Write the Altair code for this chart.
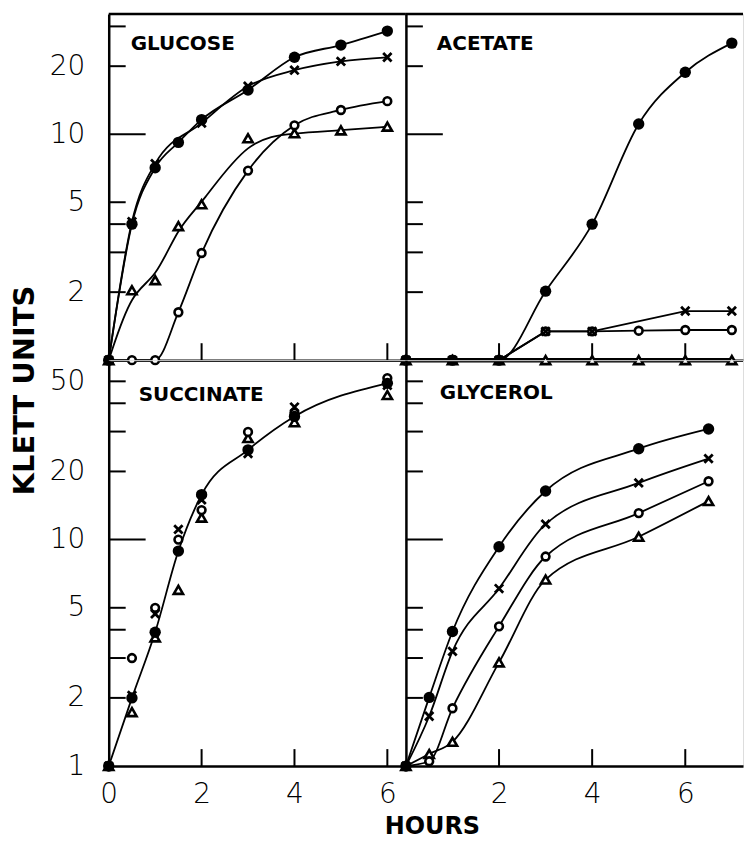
import altair as alt
import pandas as pd

# ---------------- data ----------------
GLU_HOURS = [0, 0.5, 1, 1.5, 2, 3, 4, 5, 6]
GLU_DOT = [1.0, 4.0, 7.1, 9.2, 11.6, 15.7, 21.9, 24.8, 28.6]
GLU_CROSS = [1.0, 4.1, 7.4, None, 11.2, 16.3, 19.2, 21.0, 21.9]
GLU_RING = [1.0, 1.0, 1.0, 1.63, 2.98, 6.9, 10.95, 12.8, 14.0]
GLU_TRI = [1.0, 2.04, 2.26, 3.92, 4.9, 9.6, 10.1, 10.4, 10.8]

ACE_HOURS = [0, 1, 2, 3, 4, 5, 6, 7]
ACE_DOT = [1.0, 1.0, 1.0, 2.02, 4.0, 11.1, 18.8, 25.3]
ACE_CROSS = [1.0, 1.0, 1.0, 1.34, 1.34, None, 1.65, 1.65]
ACE_RING = [1.0, 1.0, 1.0, 1.34, 1.34, 1.35, 1.36, 1.36]
ACE_TRI = [1.0, 1.0, 1.0, 1.0, 1.0, 1.0, 1.0, 1.0]

SUC_HOURS = [0, 0.5, 1, 1.5, 2, 3, 4, 6]
SUC_DOT = [1.0, 2.0, 3.9, 8.9, 15.8, 24.9, 35.0, 49.0]
SUC_CROSS = [1.0, 2.05, 4.7, 11.1, 15.0, 24.0, 38.5, 48.0]
SUC_RING = [1.0, 3.0, 5.0, 10.0, 13.5, 29.9, 36.3, 51.7]
SUC_TRI = [1.0, 1.73, 3.7, 6.0, 12.5, 28.1, 33.0, 43.5]

GLY_HOURS = [0, 0.5, 1, 2, 3, 5, 6.5]
GLY_DOT = [1.0, 2.01, 3.93, 9.3, 16.4, 25.2, 30.8]
GLY_CROSS = [1.0, 1.66, 3.21, 6.08, 11.7, 17.8, 22.8]
GLY_RING = [1.0, 1.05, 1.8, 4.14, 8.42, 13.1, 18.1]
GLY_TRI = [1.0, 1.13, 1.28, 2.87, 6.66, 10.3, 14.8]

TOP_TICKS = [2, 3, 4, 5, 10, 20, 30]
TOP_LABELS = [2, 5, 10, 20]
BOT_TICKS = [1, 2, 3, 4, 5, 10, 20, 30, 40, 50]
BOT_LABELS = [1, 2, 5, 10, 20, 50]
X_TICKS_LEFT = [0, 2, 4, 6]
X_TICKS_RIGHT = [2, 4, 6]
X_INNER_TICKS = [2, 4, 6]

SERIES = ["dot", "cross", "ring", "tri"]


def make_df(hours, dot, cross, ring, tri):
    rows = []
    for s, vals in zip(SERIES, [dot, cross, ring, tri]):
        for h, v in zip(hours, vals):
            if v is not None:
                rows.append({"series": s, "hours": h, "klett": v})
    return pd.DataFrame(rows)


LABEL_FONT = "DejaVu Sans"


def panel(df, name, name_xy, width, height, xmax, ymax, yticks, ylabels,
          show_ylabels, xticks, show_xlabels, curves, thick_series,
          top_border, ytitle=None, xtitle=None):
    lab_test = " || ".join(f"datum.value == {v}" for v in ylabels)
    yaxis_kw = dict(
        values=yticks, grid=False, ticks=False, tickSize=0,
        domainColor="black", domainWidth=2.5,
        labels=show_ylabels, labelExpr=f"({lab_test}) ? format(datum.value, 'd') : ''",
        labelFont=LABEL_FONT, labelFontSize=28, labelFontWeight=200, labelColor="black",
        labelPadding=24, labelOverlap=False, labelFlush=False,
    )
    if ytitle:
        yaxis_kw.update(title=ytitle, titleX=-75, titleY=377, titleAngle=270,
                        titleAlign="center", titleBaseline="alphabetic",
                        titleFont=LABEL_FONT, titleFontSize=29, titleFontWeight="bold",
                        titleColor="black")
    else:
        yaxis_kw.update(title=None)
    xaxis_kw = dict(
        values=xticks, grid=False, ticks=False, tickSize=0,
        domainColor="black", domainWidth=2.5,
        labels=show_xlabels, format="d",
        labelFont=LABEL_FONT, labelFontSize=28, labelFontWeight=200, labelColor="black",
        labelPadding=15, labelOverlap=False, labelFlush=False,
    )
    if xtitle:
        xaxis_kw.update(title=xtitle, titleX=324, titleY=68, titleAlign="center",
                        titleBaseline="alphabetic", titleFont=LABEL_FONT, titleFontSize=24,
                        titleFontWeight="bold", titleColor="black")
    else:
        xaxis_kw.update(title=None)

    x = alt.X("hours:Q", scale=alt.Scale(domain=[0, xmax], nice=False, zero=False),
              axis=alt.Axis(**xaxis_kw))
    y = alt.Y("klett:Q", scale=alt.Scale(type="log", domain=[1, ymax], nice=False),
              axis=alt.Axis(**yaxis_kw))
    base = alt.Chart(df).encode(x=x, y=y)

    layers = []
    # inward tick marks (positions from the tick lists through the scales)
    short_y = pd.DataFrame({"klett": [v for v in yticks if v not in (1, 10)]})
    long_y = pd.DataFrame({"klett": [v for v in yticks if v == 10]})
    layers.append(alt.Chart(short_y).mark_rule(color="black", strokeWidth=2)
                  .encode(y=y, x=alt.value(0), x2=alt.value(17)))
    layers.append(alt.Chart(long_y).mark_rule(color="black", strokeWidth=2)
                  .encode(y=y, x=alt.value(0), x2=alt.value(37)))
    xt = pd.DataFrame({"hours": X_INNER_TICKS})
    layers.append(alt.Chart(xt).mark_rule(color="black", strokeWidth=2)
                  .encode(x=x, y=alt.value(height), y2=alt.value(height - 17)))

    for series_list, interp in curves:
        layers.append(
            base.transform_filter(alt.FieldOneOfPredicate(field="series", oneOf=series_list))
            .mark_line(interpolate=interp, color="black", strokeWidth=1.8)
            .encode(detail="series:N")
        )
    for s in thick_series:
        layers.append(
            base.transform_filter(alt.datum.series == s)
            .mark_line(color="black", strokeWidth=4.5)
        )
    layers.append(base.transform_filter(alt.datum.series == "tri")
                  .mark_point(shape="triangle-up", filled=True, fill="white", stroke="black",
                              strokeWidth=2.6, size=85, opacity=1))
    layers.append(base.transform_filter(alt.datum.series == "ring")
                  .mark_point(shape="circle", filled=True, fill="white", stroke="black",
                              strokeWidth=2.6, size=60, opacity=1))
    layers.append(base.transform_filter(alt.datum.series == "dot")
                  .mark_point(shape="circle", filled=True, color="black", size=130, opacity=1))
    layers.append(base.transform_filter(alt.datum.series == "cross")
                  .mark_point(shape="M-1,-1L1,1M1,-1L-1,1", filled=False, color="black",
                              strokeWidth=2.8, size=70, opacity=1))

    one = pd.DataFrame({"t": [name]})
    layers.append(
        alt.Chart(one).mark_text(align="left", baseline="middle", font=LABEL_FONT,
                                 fontWeight="bold", fontSize=20, color="black")
        .encode(text="t:N", x=alt.value(name_xy[0]), y=alt.value(name_xy[1]))
    )
    if top_border:
        layers.append(
            alt.Chart(pd.DataFrame({"a": [0]})).mark_rule(color="black", strokeWidth=2.5)
            .encode(x=alt.value(0), x2=alt.value(width), y=alt.value(0))
        )
    return alt.layer(*layers).properties(width=width, height=height)


LW, RW = 298, 338
TH, BH = 347, 407
LX, RX = 6.4, 7.24
TY, BY = 34.0, 62.0

glu = panel(make_df(GLU_HOURS, GLU_DOT, GLU_CROSS, GLU_RING, GLU_TRI), "GLUCOSE", (22, 30),
            LW, TH, LX, TY, TOP_TICKS, TOP_LABELS, True, X_TICKS_LEFT, False,
            [(["dot", "cross", "ring"], "monotone"), (["tri"], "basis")], [], True,
            ytitle="KLETT UNITS")
ace = panel(make_df(ACE_HOURS, ACE_DOT, ACE_CROSS, ACE_RING, ACE_TRI), "ACETATE", (31, 30),
            RW, TH, RX, TY, TOP_TICKS, TOP_LABELS, False, X_TICKS_RIGHT, False,
            [(["dot"], "monotone"), (["cross", "ring"], "linear")], ["tri"], True)
suc = panel(make_df(SUC_HOURS, SUC_DOT, SUC_CROSS, SUC_RING, SUC_TRI), "SUCCINATE", (30, 35),
            LW, BH, LX, BY, BOT_TICKS, BOT_LABELS, True, X_TICKS_LEFT, True,
            [(["dot"], "monotone")], [], False, xtitle="HOURS")
gly = panel(make_df(GLY_HOURS, GLY_DOT, GLY_CROSS, GLY_RING, GLY_TRI), "GLYCEROL", (34, 33),
            RW, BH, RX, BY, BOT_TICKS, BOT_LABELS, False, X_TICKS_RIGHT, True,
            [(["dot", "cross", "ring", "tri"], "monotone")], [], False)

chart = alt.concat(glu, ace, suc, gly, columns=2, spacing=0, bounds="flush", align="each") \
    .properties(padding={"left": 2, "top": 2, "right": 0, "bottom": 0}) \
    .configure_view(strokeWidth=0) \
    .configure(background="white")

chart.save("out.html", embed_options={"renderer": "svg", "actions": False})
